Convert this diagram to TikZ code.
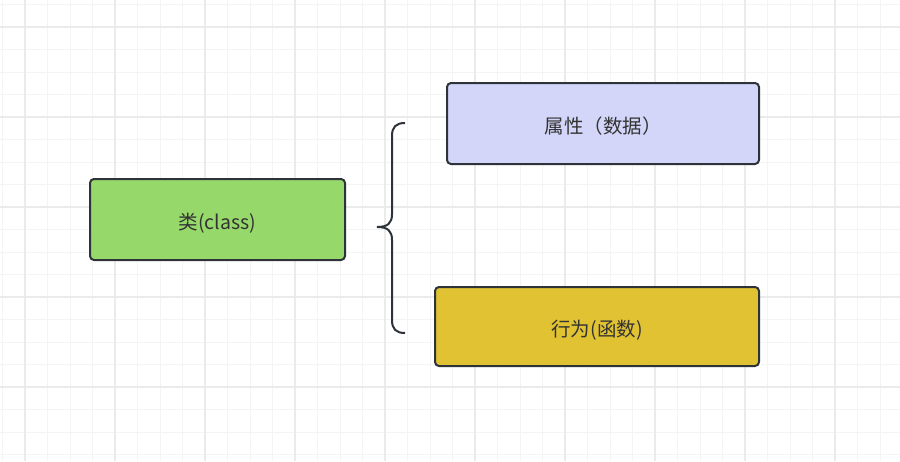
\documentclass[tikz,border=0pt]{standalone}
\usepackage{fontspec}
\setmainfont{Noto Sans CJK SC}
\usetikzlibrary{positioning}

\definecolor{edgegray}{HTML}{2D3338}
\definecolor{textgray}{HTML}{333333}
\definecolor{gridminor}{HTML}{F4F4F4}
\definecolor{gridmajor}{HTML}{EBEBEB}
\definecolor{classgreen}{HTML}{97D86A}
\definecolor{attrblue}{HTML}{D3D6F8}
\definecolor{funcyellow}{HTML}{E0C232}

\begin{document}
\begin{tikzpicture}[
        x=1pt, y=-1pt,
        box/.style={
            rectangle,
            rounded corners=4pt,
            line width=2pt,
            draw=edgegray,
            text=textgray,
            font=\fontsize{19.5}{23}\selectfont,
            text height=23pt,
            text depth=4pt,
            inner sep=0pt
        },
        brace/.style={
            line width=2pt,
            draw=edgegray
        }
    ]

    % Background grid
    \useasboundingbox (0,0) rectangle (900,461);
    \fill[white] (0,0) rectangle (900,461);
    \foreach \k in {0,...,40} {
        \draw[gridminor, line width=1pt] (2.5+22.5*\k,0) -- (2.5+22.5*\k,461);
    }
    \foreach \k in {0,...,20} {
        \draw[gridminor, line width=1pt] (0,4.5+22.5*\k) -- (900,4.5+22.5*\k);
    }
    \foreach \k in {0,...,9} {
        \draw[gridmajor, line width=1.5pt] (25+90*\k,0) -- (25+90*\k,461);
    }
    \foreach \k in {0,...,4} {
        \draw[gridmajor, line width=1.5pt] (0,27+90*\k) -- (900,27+90*\k);
    }

    % Nodes
    \node (class) [box, fill=classgreen, minimum width=255pt, minimum height=81pt] at (217.5,219.5) {类(class)};
    \node (attr) [box, fill=attrblue, minimum width=312pt, minimum height=81pt] at (603,123.5) {属性（数据）};
    \node (func) [box, fill=funcyellow, minimum width=324pt, minimum height=79pt] at (597,326.5) {行为(函数)};

    % Brace
    \coordinate (tip) at (377,227);
    \draw [brace] (405,123) .. controls (396,123) and (392,127) .. (392,136)
        -- (392,214) .. controls (392,223) and (388,227) .. (tip)
        .. controls (388,227) and (392,231) .. (392,240)
        -- (392,320) .. controls (392,329) and (396,333) .. (405,333);

\end{tikzpicture}
\end{document}
